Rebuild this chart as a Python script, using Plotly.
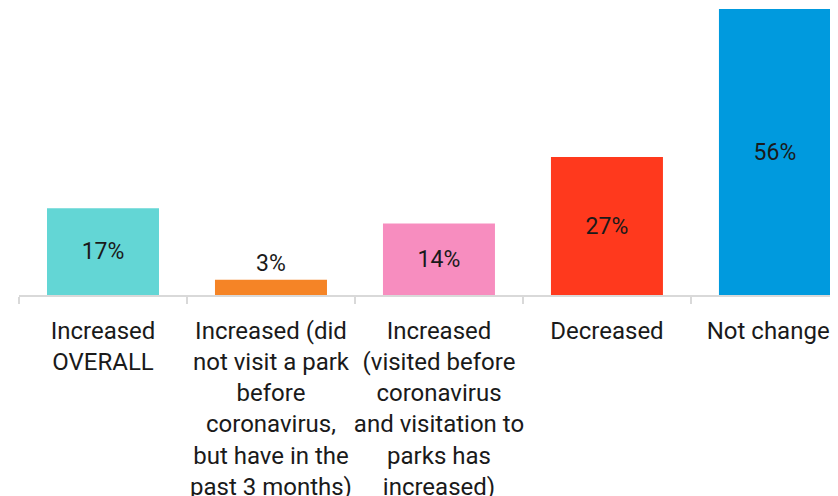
import plotly.graph_objects as go

categories = [
    "Increased<br>OVERALL",
    "Increased (did<br>not visit a park<br>before<br>coronavirus,<br>but have in the<br>past 3 months)",
    "Increased<br>(visited before<br>coronavirus<br>and visitation to<br>parks has<br>increased)",
    "Decreased",
    "Not changed",
]
values = [17, 3, 14, 27, 56]
labels = ["17%", "3%", "14%", "27%", "56%"]
colors = ["#63D6D5", "#F58426", "#F78DBF", "#FF391D", "#009ADE"]

fig = go.Figure()
fig.add_trace(go.Bar(
    x=categories, y=values, text=labels,
    marker=dict(color=colors, line=dict(width=0)),
    textposition=["inside", "outside", "inside", "inside", "inside"],
    insidetextanchor="middle",
    textfont=dict(family="Roboto", size=23, color="#1a1a1a"),
    cliponaxis=False,
    constraintext="none",
))

# the page adds an 8px body margin, so margins are trimmed to compensate
fig.update_layout(
    width=838, height=496,
    margin=dict(l=11, r=0, t=0, b=209),
    plot_bgcolor="white", paper_bgcolor="white",
    bargap=1/3,
    showlegend=False,
    font=dict(family="Roboto", size=23, color="#1a1a1a"),
)
fig.update_xaxes(
    range=[-0.5, 4.423],
    tickson="boundaries", ticks="outside", ticklen=7, tickwidth=2, tickcolor="#d9d9d9",
    showline=True, linecolor="#d9d9d9", linewidth=2,
    tickfont=dict(family="Roboto", size=24, color="#1a1a1a"),
    tickangle=0, ticklabelstandoff=13,
    automargin=False,
)
fig.update_yaxes(range=[0, 56.2], visible=False, showgrid=False, zeroline=False)

fig.write_html("out.html")
